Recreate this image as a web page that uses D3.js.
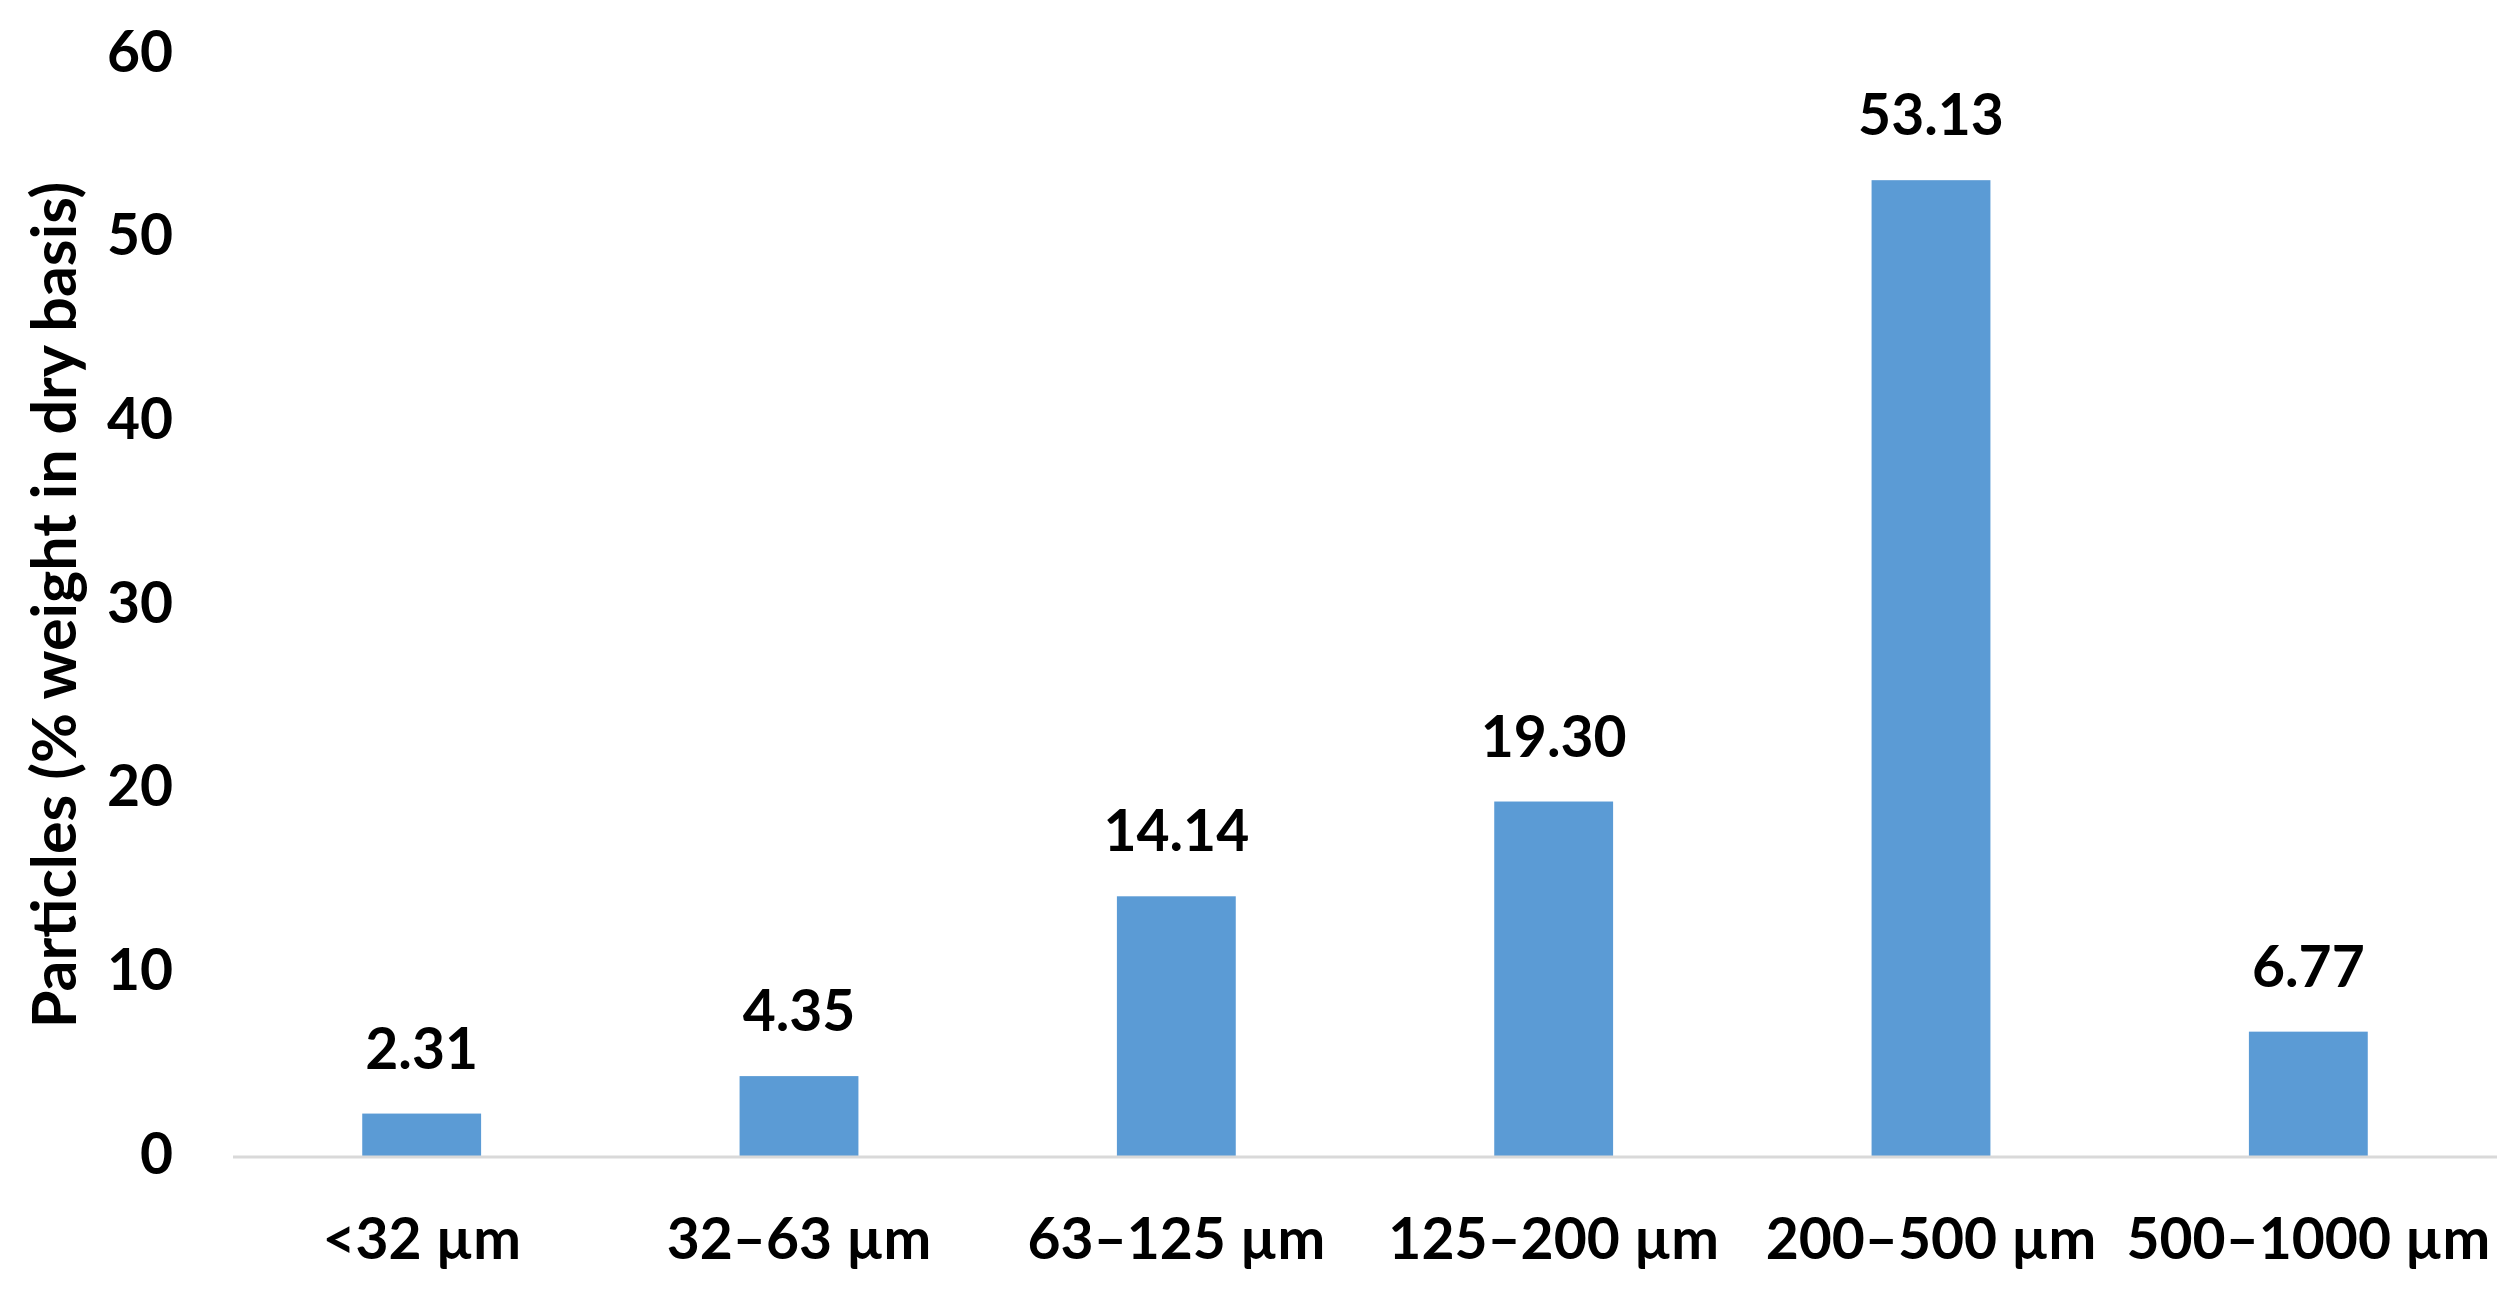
<!DOCTYPE html>
<html>
<head>
<meta charset="utf-8">
<script src="https://cdn.jsdelivr.net/npm/d3@7"></script>
<style>
  html, body { margin: 0; padding: 0; background: #fff; }
  svg { display: block; }
  text { font-family: Lato, "Open Sans", sans-serif; font-weight: 700; fill: #000; }
</style>
</head>
<body>
<script>
const categories = ["<32 µm", "32–63 µm", "63–125 µm", "125–200 µm", "200–500 µm", "500–1000 µm"];
const values = [2.31, 4.35, 14.14, 19.30, 53.13, 6.77];
const valueLabels = ["2.31", "4.35", "14.14", "19.30", "53.13", "6.77"];
const yTicks = [0, 10, 20, 30, 40, 50, 60];
const yTitle = "Particles (% weight in dry basis)";

(function () {
const W = 2517, H = 1305;
const mLeft = 233, mRight = 2497, mTop = 54, mBottom = 1156;
const fontSize = 57;

const svg = d3.select("body").append("svg").attr("width", W).attr("height", H);

const x = d3.scaleBand().domain(categories).range([mLeft, mRight])
  .paddingInner(0.685).paddingOuter(0.3425);
const y = d3.scaleLinear().domain([0, 60]).range([mBottom, mTop]);

// Bars
svg.append("g").selectAll("rect").data(values).join("rect")
  .attr("x", (d, i) => x(categories[i]))
  .attr("y", d => y(d))
  .attr("width", x.bandwidth())
  .attr("height", d => y(0) - y(d))
  .attr("fill", "#5b9bd5");

// Baseline
svg.append("line")
  .attr("x1", mLeft).attr("x2", mRight)
  .attr("y1", y(0) + 1).attr("y2", y(0) + 1)
  .attr("stroke", "#d9d9d9").attr("stroke-width", 3);

// Y axis (labels only)
const yAxis = d3.axisLeft(y).tickValues(yTicks).tickSize(0).tickPadding(60).tickFormat(d3.format("d"));
const gy = svg.append("g").attr("transform", `translate(${mLeft},0)`).call(yAxis);
gy.select(".domain").remove();
gy.selectAll("text").style("font-size", fontSize + "px").style("font-family", "Lato, sans-serif")
  .style("font-weight", 700).attr("fill", "#000").attr("dy", "0.30em");

// X axis (labels only)
const xAxis = d3.axisBottom(x).tickSize(0).tickPadding(60);
const gx = svg.append("g").attr("transform", `translate(0,${mBottom})`).call(xAxis);
gx.select(".domain").remove();
gx.selectAll("text").style("font-size", fontSize + "px").style("font-family", "Lato, sans-serif")
  .style("font-weight", 700).attr("fill", "#000").attr("dy", "0.75em");

// Value labels
svg.append("g").selectAll("text").data(values).join("text")
  .attr("x", (d, i) => x(categories[i]) + x.bandwidth() / 2)
  .attr("y", d => y(d) - 45)
  .attr("text-anchor", "middle")
  .style("font-size", fontSize + "px")
  .text((d, i) => valueLabels[i]);

// Y title
svg.append("text")
  .attr("transform", `translate(76,605) rotate(-90)`)
  .attr("text-anchor", "middle")
  .style("font-size", "61px")
  .text(yTitle);
})();
</script>
</body>
</html>
